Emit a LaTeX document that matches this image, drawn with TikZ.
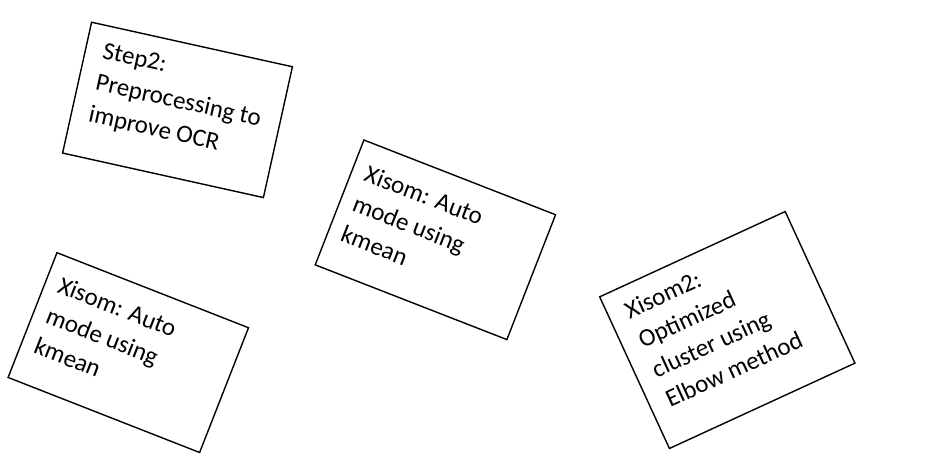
\documentclass[tikz,border=0pt]{standalone}
\usepackage{fontspec}
\setmainfont{Carlito}

\begin{document}
\begin{tikzpicture}[x=1pt,y=-1pt,thick,
  card/.style={rectangle,draw,line width=1.4pt,inner sep=0pt,minimum width=205.7pt,minimum height=134pt},
  card text/.style={anchor=north west,align=left,inner xsep=15pt,inner ysep=19pt,font=\fontsize{25}{32.5}\selectfont}]
  \useasboundingbox (0,0) rectangle (934,473);

  \node[card,rotate=-12.5] (step2) at (177.5,109.9) {};
  \node[card,rotate=-21.3] (xisomA) at (435.4,239.8) {};
  \node[card,rotate=-21.4] (xisomB) at (128.3,352.6) {};
  \node[card,rotate=24.7,minimum width=204.2pt,minimum height=166.9pt] (xisom2) at (727.3,330) {};

  \node[card text,rotate=-12.5,inner xsep=18pt,inner ysep=17pt] (step2 text) at (step2.north west) {Step2:\\Preprocessing to\\improve OCR};
  \node[card text,rotate=-21.3,inner xsep=14pt,inner ysep=21pt] (xisomA text) at (xisomA.north west) {Xisom: Auto\\mode using\\kmean};
  \node[card text,rotate=-21.4,inner xsep=14pt,inner ysep=20pt] (xisomB text) at (xisomB.north west) {Xisom: Auto\\mode using\\kmean};
  \node[card text,rotate=24.7,inner xsep=18pt,inner ysep=16pt] (xisom2 text) at (xisom2.north west) {Xisom2:\\Optimized\\cluster using\\Elbow method};
\end{tikzpicture}
\end{document}
